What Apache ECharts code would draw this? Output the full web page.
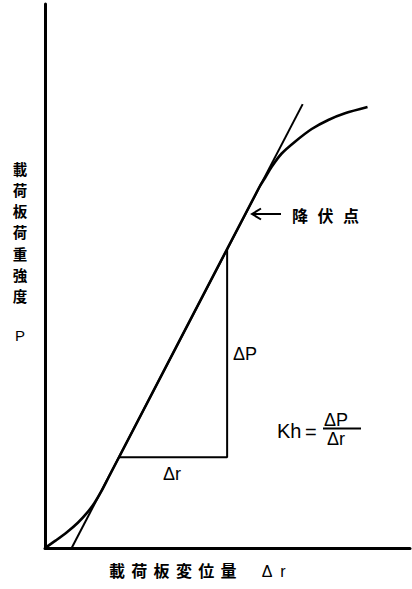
<!DOCTYPE html>
<html>
<head>
<meta charset="utf-8">
<script src="https://cdn.jsdelivr.net/npm/echarts@6/dist/echarts.min.js"></script>
<style>
  html, body { margin: 0; padding: 0; background: #fff; }
  #chart { width: 412px; height: 589px; }
</style>
</head>
<body>
<div id="chart"></div>
<script>
// Plate load P against plate displacement Δr (arbitrary units, 0–100 on both axes)
const curveDisp = [0, 3.0, 6.0, 9.0, 11.5, 13.5, 15.5, 17.5, 58.74, 60.27, 62.11, 64.85, 68.49, 73.07, 77.62, 82.19, 88.36];
const curveLoad = [0, 1.4, 2.9, 4.65, 6.45, 8.25, 10.5, 13.1, 66.36, 68.01, 70.09, 72.52, 74.69, 77.02, 78.68, 79.91, 81.07];

// Straight tangent through the linear part
const tangentDisp = [7.3, 70.6];
const tangentLoad = [0, 81.6];

// Slope triangle: Δr along the bottom, ΔP up the right side
const stepDisp = [20.3, 49.9, 49.9];
const stepLoad = [16.7, 16.7, 55.0];

// Axis captions
const yLabelChars = ['載', '荷', '板', '荷', '重', '強', '度'];
const yLabelSymbol = 'P';
const xLabelChars = ['載', '荷', '板', '変', '位', '量'];
const xLabelSymbol = ['Δ', 'r'];
const yieldChars = ['降', '伏', '点'];

const pairs = (xs, ys) => xs.map((x, i) => [x, ys[i]]);

const CJK = '"Noto Sans CJK JP", "Noto Sans CJK SC", sans-serif';
const LATIN = '"Liberation Sans", "DejaVu Sans", sans-serif';
const ink = '#000';

function cjkText(ch, x, y, size) {
  return {
    type: 'text', x: x, y: y,
    style: { text: ch, font: 'bold ' + size + 'px ' + CJK, fill: ink, align: 'center', verticalAlign: 'middle' }
  };
}
function latinText(t, x, y, size, align) {
  return {
    type: 'text', x: x, y: y,
    style: { text: t, font: size + 'px ' + LATIN, fill: ink, align: align || 'left', verticalAlign: 'middle' }
  };
}

const graphics = [];
// vertical caption beside the P axis, one character per step
yLabelChars.forEach((ch, i) => graphics.push(cjkText(ch, 20, 168 + i * 21.3, 14.5)));
graphics.push(latinText(yLabelSymbol, 20, 335, 15, 'center'));
// horizontal caption under the Δr axis
xLabelChars.forEach((ch, i) => graphics.push(cjkText(ch, 117 + i * 22.3, 570, 16)));
graphics.push(latinText(xLabelSymbol[0], 267, 571, 16, 'center'));
graphics.push(latinText(xLabelSymbol[1], 283, 571, 16, 'center'));
// yield point label and arrow
yieldChars.forEach((ch, i) => graphics.push(cjkText(ch, 300 + i * 25.5, 215, 16)));
graphics.push({
  type: 'polyline', shape: { points: [[281, 214], [252, 214]] },
  style: { stroke: ink, lineWidth: 2, fill: null }
});
graphics.push({
  type: 'polyline', shape: { points: [[261, 208.5], [252, 214], [261, 219.5]] },
  style: { stroke: ink, lineWidth: 2, fill: null }
});
// ΔP and Δr beside the slope triangle
graphics.push(latinText('ΔP', 233, 354, 18));
graphics.push(latinText('Δr', 163, 474, 18));
// Kh = ΔP / Δr
graphics.push(latinText('Kh', 277, 431, 20));
graphics.push(latinText('=', 305, 432, 20));
graphics.push(latinText('ΔP', 324, 420, 18));
graphics.push({
  type: 'line', shape: { x1: 323, y1: 428.5, x2: 361, y2: 428.5 },
  style: { stroke: ink, lineWidth: 2 }
});
graphics.push(latinText('Δr', 327, 439, 18));

const axisCommon = {
  type: 'value', min: 0, max: 100,
  axisLine: { show: true, onZero: false, lineStyle: { color: ink, width: 3 } },
  axisTick: { show: false },
  axisLabel: { show: false },
  splitLine: { show: false }
};

const chart = echarts.init(document.getElementById('chart'), null, { renderer: 'svg' });
chart.setOption({
  animation: false,
  backgroundColor: '#fff',
  grid: { left: 45, top: 4, right: 2, bottom: 41, containLabel: false },
  xAxis: axisCommon,
  yAxis: axisCommon,
  series: [
    {
      type: 'line', data: pairs(curveDisp, curveLoad), smooth: 0.3,
      symbol: 'none', lineStyle: { color: ink, width: 2.6 }, z: 3
    },
    {
      type: 'line', data: pairs(tangentDisp, tangentLoad),
      symbol: 'none', lineStyle: { color: ink, width: 2 }, z: 2
    },
    {
      type: 'line', data: pairs(stepDisp, stepLoad),
      symbol: 'none', lineStyle: { color: ink, width: 2 }, z: 2
    }
  ],
  graphic: graphics
});
</script>
</body>
</html>
